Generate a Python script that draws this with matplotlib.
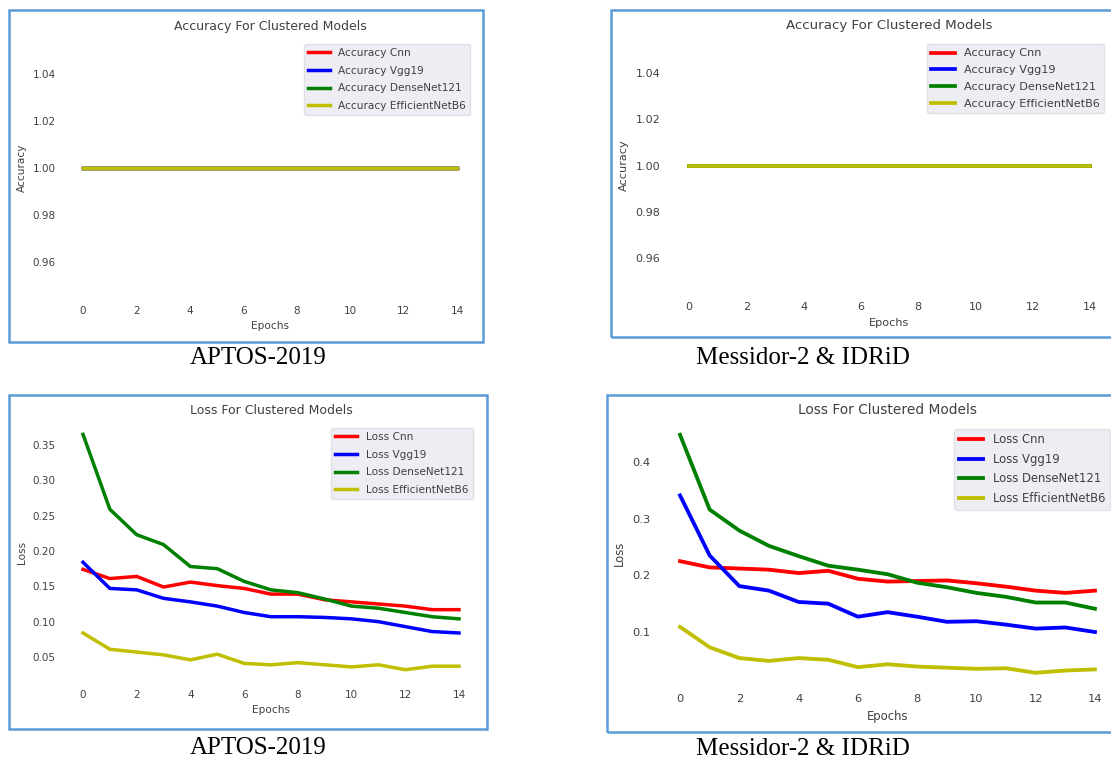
import matplotlib
matplotlib.use("Agg")
import matplotlib.pyplot as plt
from matplotlib.patches import Rectangle

# ---------------- data ----------------
epochs = list(range(15))
models = ["Cnn", "Vgg19", "DenseNet121", "EfficientNetB6"]
colors = ["red", "blue", "green", "y"]

acc_aptos = {
    "Cnn": [1.0] * 15,
    "Vgg19": [1.0] * 15,
    "DenseNet121": [1.0] * 15,
    "EfficientNetB6": [1.0] * 15,
}
acc_messidor = {
    "Cnn": [1.0] * 15,
    "Vgg19": [1.0] * 15,
    "DenseNet121": [1.0] * 15,
    "EfficientNetB6": [1.0] * 15,
}

loss_aptos_cnn = [0.174, 0.161, 0.164, 0.149, 0.156, 0.151, 0.147, 0.139, 0.139, 0.131, 0.128, 0.125, 0.122, 0.117, 0.117]
loss_aptos_vgg = [0.184, 0.147, 0.145, 0.133, 0.128, 0.122, 0.113, 0.107, 0.107, 0.106, 0.104, 0.100, 0.093, 0.086, 0.084]
loss_aptos_dense = [0.365, 0.259, 0.223, 0.209, 0.178, 0.175, 0.157, 0.145, 0.141, 0.132, 0.122, 0.119, 0.113, 0.107, 0.104]
loss_aptos_eff = [0.084, 0.061, 0.057, 0.053, 0.046, 0.054, 0.041, 0.039, 0.042, 0.039, 0.036, 0.039, 0.032, 0.037, 0.037]

loss_mess_cnn = [0.225, 0.214, 0.212, 0.210, 0.204, 0.208, 0.194, 0.189, 0.190, 0.191, 0.186, 0.180, 0.173, 0.169, 0.173]
loss_mess_vgg = [0.341, 0.235, 0.181, 0.173, 0.153, 0.150, 0.127, 0.135, 0.127, 0.118, 0.119, 0.113, 0.106, 0.108, 0.100]
loss_mess_dense = [0.448, 0.316, 0.279, 0.252, 0.234, 0.217, 0.210, 0.202, 0.187, 0.179, 0.169, 0.162, 0.152, 0.152, 0.141]
loss_mess_eff = [0.109, 0.073, 0.054, 0.049, 0.054, 0.051, 0.038, 0.043, 0.039, 0.037, 0.035, 0.036, 0.028, 0.032, 0.034]

loss_aptos = dict(zip(models, [loss_aptos_cnn, loss_aptos_vgg, loss_aptos_dense, loss_aptos_eff]))
loss_messidor = dict(zip(models, [loss_mess_cnn, loss_mess_vgg, loss_mess_dense, loss_mess_eff]))

captions = ["APTOS-2019", "Messidor-2 & IDRiD"]

# ---------------- figure ----------------
W, H = 1111, 763
fig = plt.figure(figsize=(W / 100, H / 100), dpi=100)
fig.patch.set_facecolor("white")

TXT = "0.25"


def add_axes_px(left, top, right, bottom):
    return fig.add_axes([left / W, 1 - bottom / H, (right - left) / W, (bottom - top) / H])


def border_px(left, top, right, bottom):
    r = Rectangle((left / W, 1 - bottom / H), (right - left) / W, (bottom - top) / H,
                  transform=fig.transFigure, fill=False, edgecolor="#5B9BD5", lw=1.8,
                  clip_on=False)
    fig.patches.append(r)


def style(ax, title, ylabel, s=1.0):
    ax.set_facecolor("white")
    for sp in ax.spines.values():
        sp.set_visible(False)
    ax.tick_params(length=0, pad=6 * s, labelsize=7.5 * s, labelcolor=TXT)
    ax.set_title(title, fontsize=9 * s, color=TXT, pad=6 * s)
    ax.set_xlabel("Epochs", fontsize=7.6 * s, color=TXT, labelpad=4 * s)
    ax.set_ylabel(ylabel, fontsize=7.6 * s, color=TXT, labelpad=4 * s)
    ax.set_xticks(range(0, 15, 2))
    ax.set_xlim(-0.7, 14.7)


def draw(ax, data, prefix, s=1.0, spacing=0.72):
    for m, c in zip(models, colors):
        ax.plot(epochs, data[m], color=c, lw=2.5 * s, label=f"{prefix} {m}")
    leg = ax.legend(loc="upper right", fontsize=7.6 * s, facecolor="#EAEAF2", edgecolor="#DDDDE4",
                    framealpha=0.85, fancybox=True, borderaxespad=0.5, labelspacing=spacing,
                    handlelength=2.1)
    for t in leg.get_texts():
        t.set_color(TXT)


# borders
border_px(9, 10, 483, 342)
border_px(611, 10, 1115, 337)
border_px(9, 395, 487, 729)
border_px(607, 395, 1115, 732)

# top-left: accuracy APTOS
ax1 = add_axes_px(64.3, 38.5, 475.7, 297.5)
draw(ax1, acc_aptos, "Accuracy")
style(ax1, "Accuracy For Clustered Models", "Accuracy")
ax1.set_ylim(0.945, 1.055)
ax1.set_yticks([0.96, 0.98, 1.00, 1.02, 1.04])

# top-right: accuracy Messidor
ax2 = add_axes_px(669, 38.3, 1110, 292.7)
draw(ax2, acc_messidor, "Accuracy", 1.07, 0.6)
style(ax2, "Accuracy For Clustered Models", "Accuracy", 1.07)
ax2.set_ylim(0.945, 1.055)
ax2.set_yticks([0.96, 0.98, 1.00, 1.02, 1.04])

# bottom-left: loss APTOS
ax3 = add_axes_px(64.2, 422.6, 477.8, 681.5)
draw(ax3, loss_aptos, "Loss")
style(ax3, "Loss For Clustered Models", "Loss")
ax3.set_yticks([0.05, 0.10, 0.15, 0.20, 0.25, 0.30, 0.35])
ax3.set_yticklabels(["0.05", "0.10", "0.15", "0.20", "0.25", "0.30", "0.35"])

# bottom-right: loss Messidor
ax4 = add_axes_px(659.3, 422.9, 1115.7, 684.7)
draw(ax4, loss_messidor, "Loss", 1.10, 0.56)
style(ax4, "Loss For Clustered Models", "Loss", 1.10)
ax4.set_yticks([0.1, 0.2, 0.3, 0.4])

# captions
cap_font = dict(fontsize=18, family="Liberation Serif", color="black", ha="center", va="center")
fig.text(258 / W, 1 - 358 / H, captions[0], **cap_font)
fig.text(803 / W, 1 - 358 / H, captions[1], **cap_font)
fig.text(258 / W, 1 - 748 / H, captions[0], **cap_font)
fig.text(803 / W, 1 - 749 / H, captions[1], **cap_font)

fig.savefig("out.png", dpi=100, facecolor="white")
